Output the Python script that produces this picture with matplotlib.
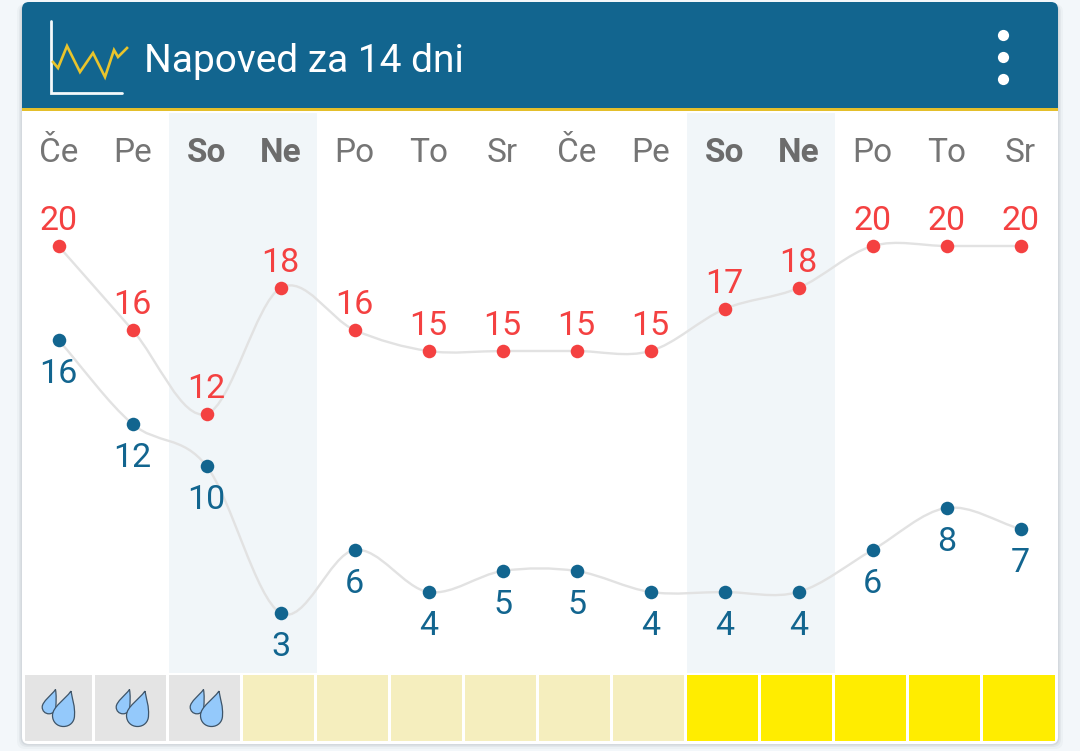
import numpy as np
import matplotlib
matplotlib.use("Agg")
import matplotlib.pyplot as plt
from matplotlib.path import Path
from matplotlib.patches import PathPatch, Rectangle, FancyBboxPatch, Circle

plt.rcParams['font.family'] = ['Roboto', 'DejaVu Sans']

days = ["Če", "Pe", "So", "Ne", "Po", "To", "Sr", "Če", "Pe", "So", "Ne", "Po", "To", "Sr"]
high = [20, 16, 12, 18, 16, 15, 15, 15, 15, 17, 18, 20, 20, 20]
low = [16, 12, 10, 3, 6, 4, 5, 5, 4, 4, 4, 6, 8, 7]
weekend = [2, 3, 9, 10]
title = "Napoved za 14 dni"
grey_days = [0, 1, 2]
pale_days = [3, 4, 5, 6, 7, 8]
bright_days = [9, 10, 11, 12, 13]

W, H = 1080, 751
BLUE = "#12658F"
RED = "#F44141"
LINE = "#E2E2E2"
TXT = "#757575"

fig = plt.figure(figsize=(W / 100, H / 100), dpi=100, facecolor="#F3F7FA")

# page furniture, in pixel coordinates
bg = fig.add_axes([0, 0, 1, 1])
bg.set_xlim(0, W)
bg.set_ylim(H, 0)
bg.axis("off")

for grow, a in [(5, .03), (3, .05), (1.5, .08)]:
    bg.add_patch(FancyBboxPatch((22 - grow, 4), 1036 + 2 * grow, 740 + grow, boxstyle="round,pad=0,rounding_size=8",
                                fc="#30404f", ec="none", alpha=a))
bg.add_patch(FancyBboxPatch((22, 2), 1036, 742, boxstyle="round,pad=0,rounding_size=7", fc="white", ec="none"))
head = FancyBboxPatch((22, 2), 1036, 120, boxstyle="round,pad=0,rounding_size=7", fc=BLUE, ec="none")
bg.add_patch(head)
bg.add_patch(Rectangle((22, 108), 1036, 3, fc="#E4BF2B", ec="none"))
bg.add_patch(Rectangle((22, 111), 1036, 20, fc="white", ec="none"))

bg.plot([51, 51, 122], [21, 93, 93], color="#F4F9FB", lw=2.0, solid_joinstyle="miter", solid_capstyle="round")
bg.plot([53, 58, 67, 80, 93, 105, 114, 118, 127], [62, 68, 46, 72, 53, 77, 50, 57, 48],
        color="#E9C42C", lw=1.9, solid_joinstyle="miter")
bg.text(144, 61, title, color="white", fontsize=28, va="center", ha="left")
for cy in (35.5, 57.5, 79.5):
    bg.add_patch(Circle((1003.5, cy), 5.6, fc="white", ec="none"))

for d in weekend[::2]:
    bg.add_patch(Rectangle((59 + 74 * d - 38, 113), 148, 560, fc="#F1F6F9", ec="none"))

def cell(i, color):
    x0 = 25 if i == 0 else 21 + 74 * i
    x1 = 92 + 74 * i if i < 13 else 1055
    bg.add_patch(Rectangle((x0, 675), x1 - x0, 66, fc=color, ec="none"))

for i in grey_days:
    cell(i, "#E4E4E4")
for i in pale_days:
    cell(i, "#F5EEBE")
for i in bright_days:
    cell(i, "#FFED00")

def drop(tipx, tipy, cx, cy, r):
    verts = [(tipx, tipy),
             (tipx + r * .15, tipy + r * .9), (cx + r * 1.05, cy - r * .9), (cx + r, cy),
             (cx + r, cy + r * .58), (cx + r * .58, cy + r), (cx, cy + r),
             (cx - r * .58, cy + r), (cx - r, cy + r * .58), (cx - r, cy),
             (cx - r, cy - r * .8), (tipx - r * .55, tipy + r * .8), (tipx, tipy)]
    codes = [Path.MOVETO] + [Path.CURVE4] * 12
    return Path(verts, codes)

for i in grey_days:
    dx = 74 * i
    bg.add_patch(PathPatch(drop(55.5 + dx, 689.5, 49 + dx, 707, 6.8), fc="#94C9FB", ec="#3E5468", lw=.9))
    bg.add_patch(PathPatch(drop(71 + dx, 691, 63.5 + dx, 715.5, 11), fc="#94C9FB", ec="#3E5468", lw=.9))

# chart axes: high and low temperatures have their own vertical scale
def make_axes(ylim):
    ax = fig.add_axes([21.5 / W, 1 - 673 / H, 1036 / W, 563 / H])
    ax.patch.set_alpha(0)
    ax.set_xlim(-.5, 13.5)
    ax.set_ylim(*ylim)
    ax.axis("off")
    return ax

ax_hi = make_axes((20 - 427 / 21, 20 + 136 / 21))
ax_lo = make_axes((16 - 333 / 21, 16 + 230 / 21))

def smooth_path(y):
    y = np.asarray(y, float)
    n = len(y)
    m = np.zeros(n)
    m[1:-1] = (y[2:] - y[:-2]) / 2
    m[0] = y[1] - y[0]
    m[-1] = y[-1] - y[-2]
    verts = [(0, y[0])]
    for i in range(n - 1):
        verts += [(i + 1 / 3, y[i] + m[i] / 3), (i + 2 / 3, y[i + 1] - m[i + 1] / 3), (i + 1, y[i + 1])]
    return Path(verts, [Path.MOVETO] + [Path.CURVE4] * (3 * (n - 1)))

for ax, vals, color, off in ((ax_hi, high, RED, 17.9), (ax_lo, low, BLUE, -24.6)):
    xs = np.arange(len(vals))
    ax.add_patch(PathPatch(smooth_path(vals), fc="none", ec=LINE, lw=1.7))
    ax.scatter(xs, vals, s=95, color=color, zorder=3, linewidths=0, clip_on=False)
    for x, v in zip(xs, vals):
        ax.annotate(str(v), (x, v), xytext=(0, off), textcoords="offset points", ha="center", va="center",
                    color=color, fontsize=24.5)

for i, d in enumerate(days):
    ax_hi.annotate(d, (i, 1), xycoords=("data", "axes fraction"), xytext=(0, -31.1), textcoords="offset points",
                   ha="center", va="center", color="#6c6c6c" if i in weekend else TXT,
                   fontsize=24, fontweight="bold" if i in weekend else "normal")

fig.savefig("out.png", dpi=100, facecolor=fig.get_facecolor())
